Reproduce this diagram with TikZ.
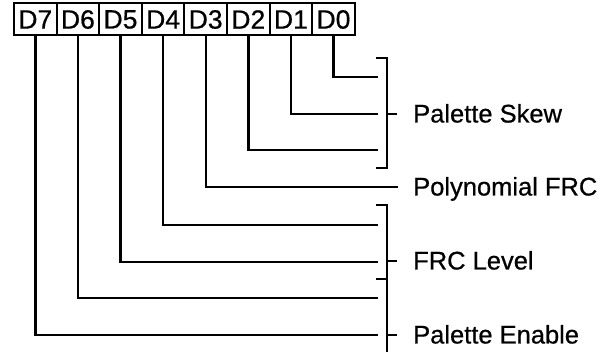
\documentclass[tikz,border=0pt]{standalone}
\usepackage{fontspec}
\setmainfont[FakeBold=0.6]{Liberation Sans}
\begin{document}
\begin{tikzpicture}[x=1pt,y=-1pt,line width=2.4pt,
  bitbox/.style={draw,line width=2pt,minimum width=42.6pt,minimum height=32pt,inner sep=0pt,outer sep=0pt,font=\fontsize{26.5}{30}\selectfont},
  lbl/.style={anchor=base west,inner sep=0pt,font=\fontsize{25.5}{28}\selectfont},
  wire/.style={line cap=rect,line join=miter}]
\useasboundingbox (0,0) rectangle (608,352);
% register bits
\node[bitbox] (d7) at (35.3,19.5) {D7};
\node[bitbox] (d6) at (77.9,19.5) {D6};
\node[bitbox] (d5) at (120.5,19.5) {D5};
\node[bitbox] (d4) at (163.1,19.5) {D4};
\node[bitbox] (d3) at (205.7,19.5) {D3};
\node[bitbox] (d2) at (248.3,19.5) {D2};
\node[bitbox] (d1) at (290.9,19.5) {D1};
\node[bitbox] (d0) at (333.5,19.5) {D0};
% wire ends
\coordinate (e0) at (377,77);
\coordinate (e1) at (377,114);
\coordinate (e2) at (377,150);
\coordinate (e3) at (397,187);
\coordinate (e4) at (377,225);
\coordinate (e5) at (377,262);
\coordinate (e6) at (377,298);
\coordinate (e7) at (377,335);
\draw[wire] (d0.south) |- (e0);
\draw[wire] (d1.south) |- (e1);
\draw[wire] (d2.south) |- (e2);
\draw[wire] (d3.south) |- (e3);
\draw[wire] (d4.south) |- (e4);
\draw[wire] (d5.south) |- (e5);
\draw[wire] (d6.south) |- (e6);
\draw[wire] (d7.south) |- (e7);
% brackets
\coordinate (b1t) at (376,58);
\coordinate (b1b) at (376,168);
\coordinate (b1m) at (397,114);
\draw[line join=miter] (b1t) -- (387,58) -- (387,168) -- (b1b);
\draw (387,114) -- (b1m);
\coordinate (b2t) at (376,205);
\coordinate (b2m) at (397,261);
\coordinate (b2s) at (376,279);
\coordinate (b3m) at (397,335);
\draw[line join=miter] (b2t) -- (387,205) -- (387,353);
\draw (387,261) -- (b2m);
\draw (b2s) -- (387,279);
\draw (387,335) -- (b3m);
% labels
\node[lbl] (l1) at (412,122.5) {Palette Skew};
\node[lbl] (l2) at (412,195.5) {Polynomial FRC};
\node[lbl] (l3) at (412,269.5) {FRC Level};
\node[lbl] (l4) at (412,343.5) {Palette Enable};
\end{tikzpicture}
\end{document}
